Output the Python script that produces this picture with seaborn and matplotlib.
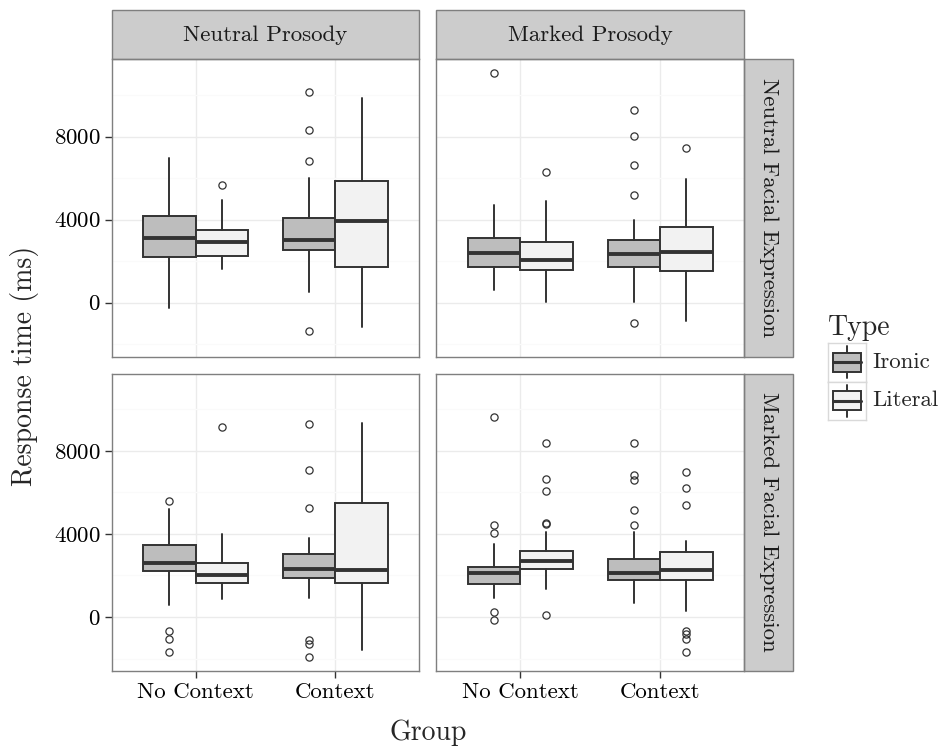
import numpy as np
import pandas as pd
import matplotlib
matplotlib.use("Agg")
import matplotlib.pyplot as plt
import seaborn as sns
from matplotlib.patches import Rectangle
from matplotlib.ticker import FixedLocator

# facet / group labels
facial = ["Neutral Facial Expression"] * 8 + ["Marked Facial Expression"] * 8
prosody = (["Neutral Prosody"] * 4 + ["Marked Prosody"] * 4) * 2
group = (["No Context"] * 2 + ["Context"] * 2) * 4
kind = ["Ironic", "Literal"] * 8

# box statistics (ms)
whislo = [-270, 1600, 530, -1150,   610, 30, 30, -880,
          580, 850, 930, -1570,     910, 1330, 660, 300]
q1 = [2220, 2270, 2560, 1710,       1740, 1550, 1740, 1520,
      2210, 1630, 1900, 1650,       1580, 2320, 1760, 1790]
med = [3120, 2930, 3040, 3950,      2400, 2050, 2350, 2450,
       2590, 2000, 2300, 2260,      2100, 2720, 2130, 2270]
q3 = [4190, 3490, 4080, 5840,       3120, 2930, 3020, 3650,
      3490, 2620, 3010, 5470,       2430, 3180, 2770, 3150]
whishi = [6960, 4960, 6000, 9840,   4690, 4910, 3970, 5950,
          5180, 4000, 3820, 9340,   3500, 4080, 4080, 3650]
outliers = [
    [], [5660], [10160, 8320, 6800, -1360], [],
    [11070], [6270], [9280, 8050, 6640, 5170, -990], [7460],
    [5580, -690, -1080, -1710], [9150], [9300, 7070, 5250, -1090, -1310, -1950], [],
    [9630, 4420, 4030, 240, -160], [8400, 6640, 6080, 4480, 4520, 80],
    [8400, 6830, 6590, 5170, 4420], [6960, 6220, 5380, -670, -800, -1040, -1710],
]

row_order = ["Neutral Facial Expression", "Marked Facial Expression"]
col_order = ["Neutral Prosody", "Marked Prosody"]
group_order = ["No Context", "Context"]
type_order = ["Ironic", "Literal"]
fills = {"Ironic": "#BDBDBD", "Literal": "#F2F2F2"}
edge = "#333333"

df = pd.DataFrame({"Facial": facial, "Prosody": prosody, "Group": group, "Type": kind,
                   "whislo": whislo, "q1": q1, "med": med, "q3": q3, "whishi": whishi,
                   "fliers": outliers})

all_vals = whislo + whishi + [v for o in outliers for v in o]
span = max(all_vals) - min(all_vals)
ylim = (min(all_vals) - 0.05 * span, max(all_vals) + 0.05 * span)

sns.set_theme(style="white")
plt.rcParams["font.family"] = ["cmr10", "DejaVu Serif"]
plt.rcParams["mathtext.fontset"] = "cm"
plt.rcParams["axes.formatter.use_mathtext"] = True


def draw_panel(data, **kws):
    ax = plt.gca()
    for _, r in data.iterrows():
        pos = group_order.index(r["Group"]) + 1 + (-0.1875 if r["Type"] == "Ironic" else 0.1875)
        stats = [dict(whislo=r["whislo"], q1=r["q1"], med=r["med"], q3=r["q3"],
                      whishi=r["whishi"], fliers=np.array(r["fliers"]))]
        ax.bxp(stats, positions=[pos], widths=[0.375], patch_artist=True, showcaps=False,
               manage_ticks=False,
               boxprops=dict(facecolor=fills[r["Type"]], edgecolor=edge, linewidth=1.4),
               medianprops=dict(color=edge, linewidth=2.8, solid_capstyle="butt"),
               whiskerprops=dict(color=edge, linewidth=1.4),
               flierprops=dict(marker="o", markerfacecolor="none", markeredgecolor=edge,
                               markersize=5.2, markeredgewidth=0.9),
               zorder=3)


g = sns.FacetGrid(df, row="Facial", col="Prosody", row_order=row_order, col_order=col_order,
                  sharex=True, sharey=True, height=3.5, aspect=1.0, despine=False)
g.map_dataframe(draw_panel)
g.set_titles("")
g.set_axis_labels("", "")

fig = g.figure
fig.set_size_inches(9.43, 7.51)
W, H = 943, 751
fig.subplots_adjust(left=111.7 / W, right=744 / W, top=1 - 59.3 / H, bottom=1 - 671 / H,
                    wspace=0.055, hspace=0.057)

for i, rname in enumerate(row_order):
    for j, cname in enumerate(col_order):
        ax = g.axes[i, j]
        ax.set_facecolor("white")
        ax.set_xlim(0.4, 2.6)
        ax.set_ylim(*ylim)
        ax.set_xticks([1, 2])
        ax.set_xticklabels(group_order)
        ax.set_yticks([0, 4000, 8000])
        ax.yaxis.set_minor_locator(FixedLocator([-2000, 2000, 6000, 10000]))
        ax.grid(which="major", color="#EBEBEB", linewidth=1.0, zorder=0)
        ax.grid(which="minor", axis="y", color="#FAFAFA", linewidth=1.0, zorder=0)
        ax.set_axisbelow(True)
        ax.tick_params(which="major", direction="out", length=5, width=1, color=edge,
                       labelsize=16.5, labelcolor="black", pad=3,
                       left=(j == 0), bottom=(i == 1), labelleft=(j == 0), labelbottom=(i == 1))
        ax.tick_params(which="minor", length=0)
        for s in ax.spines.values():
            s.set_color("#7F7F7F")
            s.set_linewidth(1.0)
        if i == 0:
            h = 49 / 298
            ax.add_patch(Rectangle((0, 1), 1, h, transform=ax.transAxes, clip_on=False,
                                   facecolor="#CCCCCC", edgecolor="#7F7F7F", linewidth=1.0))
            ax.text(0.5, 1 + h / 2, cname, transform=ax.transAxes, ha="center", va="center",
                    fontsize=16.5, color="#1A1A1A")
        if j == 1:
            w = 49 / 308
            ax.add_patch(Rectangle((1, 0), w, 1, transform=ax.transAxes, clip_on=False,
                                   facecolor="#CCCCCC", edgecolor="#7F7F7F", linewidth=1.0))
            ax.text(1 + w / 2, 0.5, rname, transform=ax.transAxes, ha="center", va="center",
                    rotation=270, fontsize=16.5, color="#1A1A1A")

# axis titles
fig.text(25 / W, 1 - 366 / H, "Response time (ms)", rotation=90, ha="center", va="center",
         fontsize=20)
fig.text(428 / W, 1 - 733 / H, "Group", ha="center", va="center", fontsize=20)

# legend
fig.text(828 / W, 1 - 335 / H, "Type", ha="left", va="baseline", fontsize=20)
for k, t in enumerate(type_order):
    top = 343 + 38.5 * k
    kax = fig.add_axes([828 / W, 1 - (top + 38.5) / H, 38 / W, 38.5 / H])
    kax.set_xlim(0, 1)
    kax.set_ylim(0, 1)
    kax.set_xticks([])
    kax.set_yticks([])
    for s in kax.spines.values():
        s.set_color("#D9D9D9")
        s.set_linewidth(1.0)
    kax.plot([0.5, 0.5], [0.08, 0.92], color=edge, lw=1.4, zorder=1)
    kax.add_patch(Rectangle((0.12, 0.25), 0.76, 0.5, facecolor=fills[t], edgecolor=edge,
                            lw=1.4, zorder=2))
    kax.plot([0.12, 0.88], [0.5, 0.5], color=edge, lw=2.2, zorder=3)
    fig.text(872 / W, 1 - (top + 19) / H, t, ha="left", va="center", fontsize=16.5)

fig.savefig("out.png", dpi=100)
